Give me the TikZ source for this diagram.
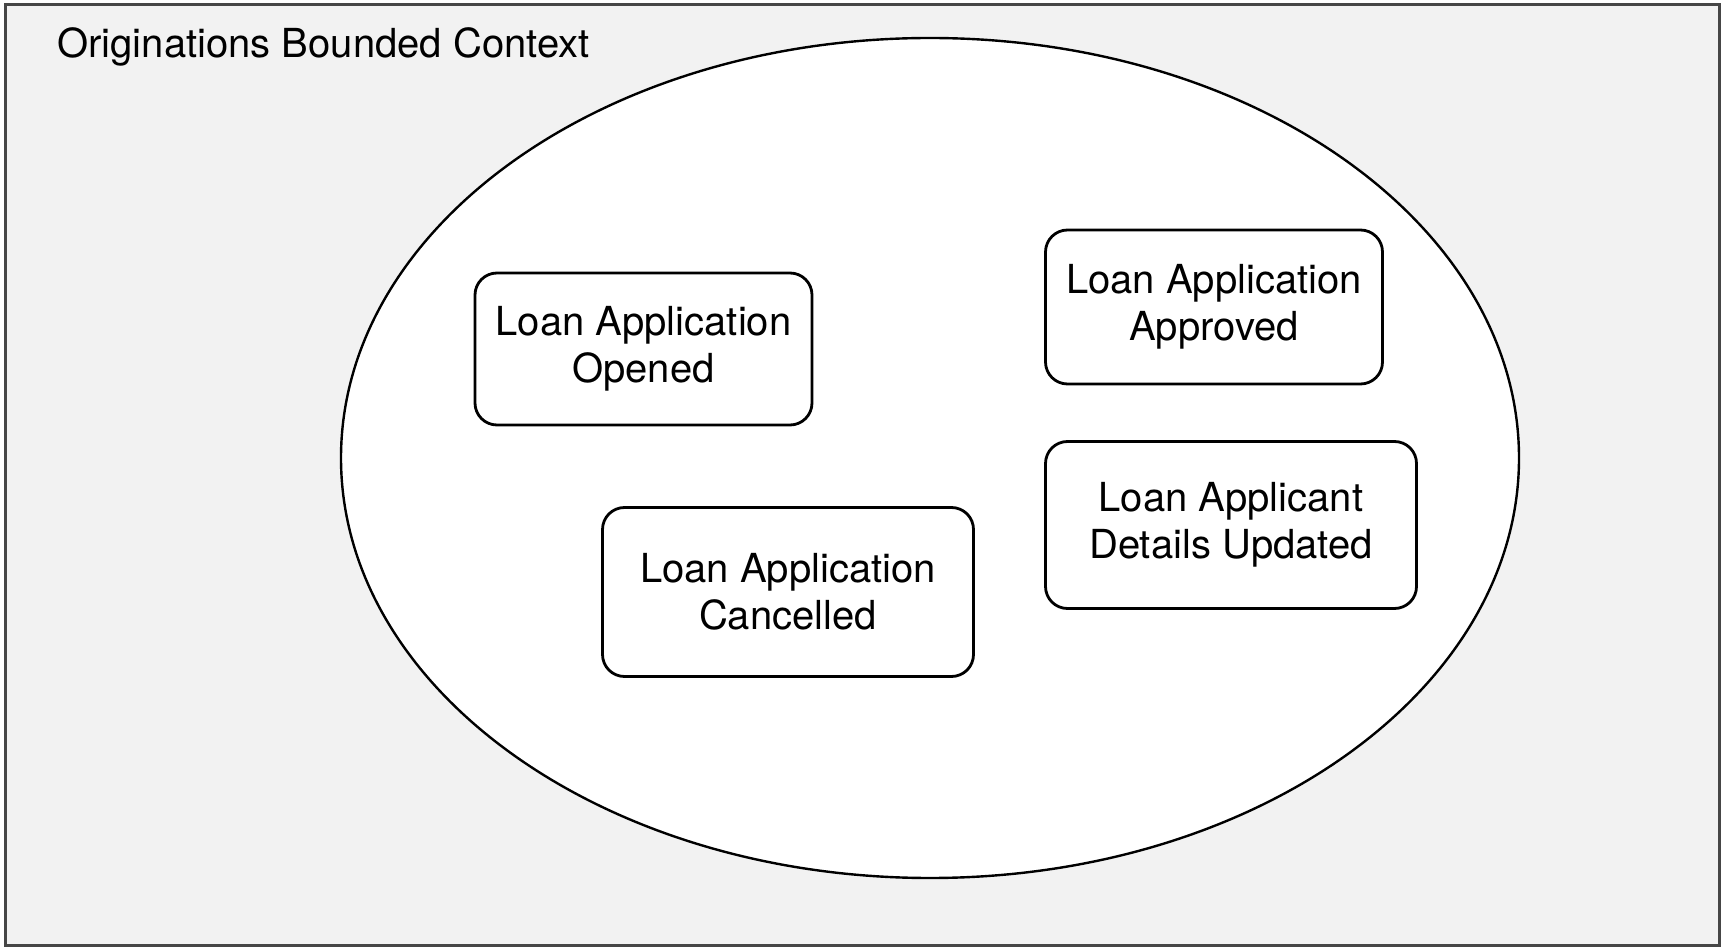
\documentclass[tikz,border=0pt]{standalone}
\usepackage{fontspec}
\setmainfont{TeX Gyre Heros}
\usetikzlibrary{shapes.geometric}
\definecolor{contextback}{RGB}{242,242,242}
\definecolor{contextline}{RGB}{70,70,70}

\begin{document}
\begin{tikzpicture}[x=0.5pt,y=-0.5pt,
  event/.style={draw,fill=white,rounded corners=11pt,line width=1.4pt,align=center,inner sep=0pt,font=\fontsize{20}{23.5}\selectfont}]
\useasboundingbox (0,0) rectangle (1725,951);
% bounded context frame
\draw [draw=contextline,fill=contextback,line width=1.5pt] (5,5) rectangle (1719,945);
\node [anchor=base west,inner sep=0pt,font=\fontsize{20}{23.5}\selectfont] (title) at (57,58) {Originations Bounded Context};
\node [ellipse,draw,fill=white,line width=1.2pt,inner sep=0pt,minimum width=589pt,minimum height=420pt] (bounded) at (930,458) {};
% domain events
\node [event,minimum width=168.5pt,minimum height=76pt] (opened) at (643.5,349) {Loan Application\\Opened};
\node [event,minimum width=168.5pt,minimum height=77pt] (approved) at (1214,307) {Loan Application\\Approved};
\node [event,minimum width=185.5pt,minimum height=83.5pt] (updated) at (1231,525) {Loan Applicant\\Details Updated};
\node [event,minimum width=185.5pt,minimum height=84.5pt] (cancelled) at (788,592) {Loan Application\\Cancelled};
\end{tikzpicture}
\end{document}
